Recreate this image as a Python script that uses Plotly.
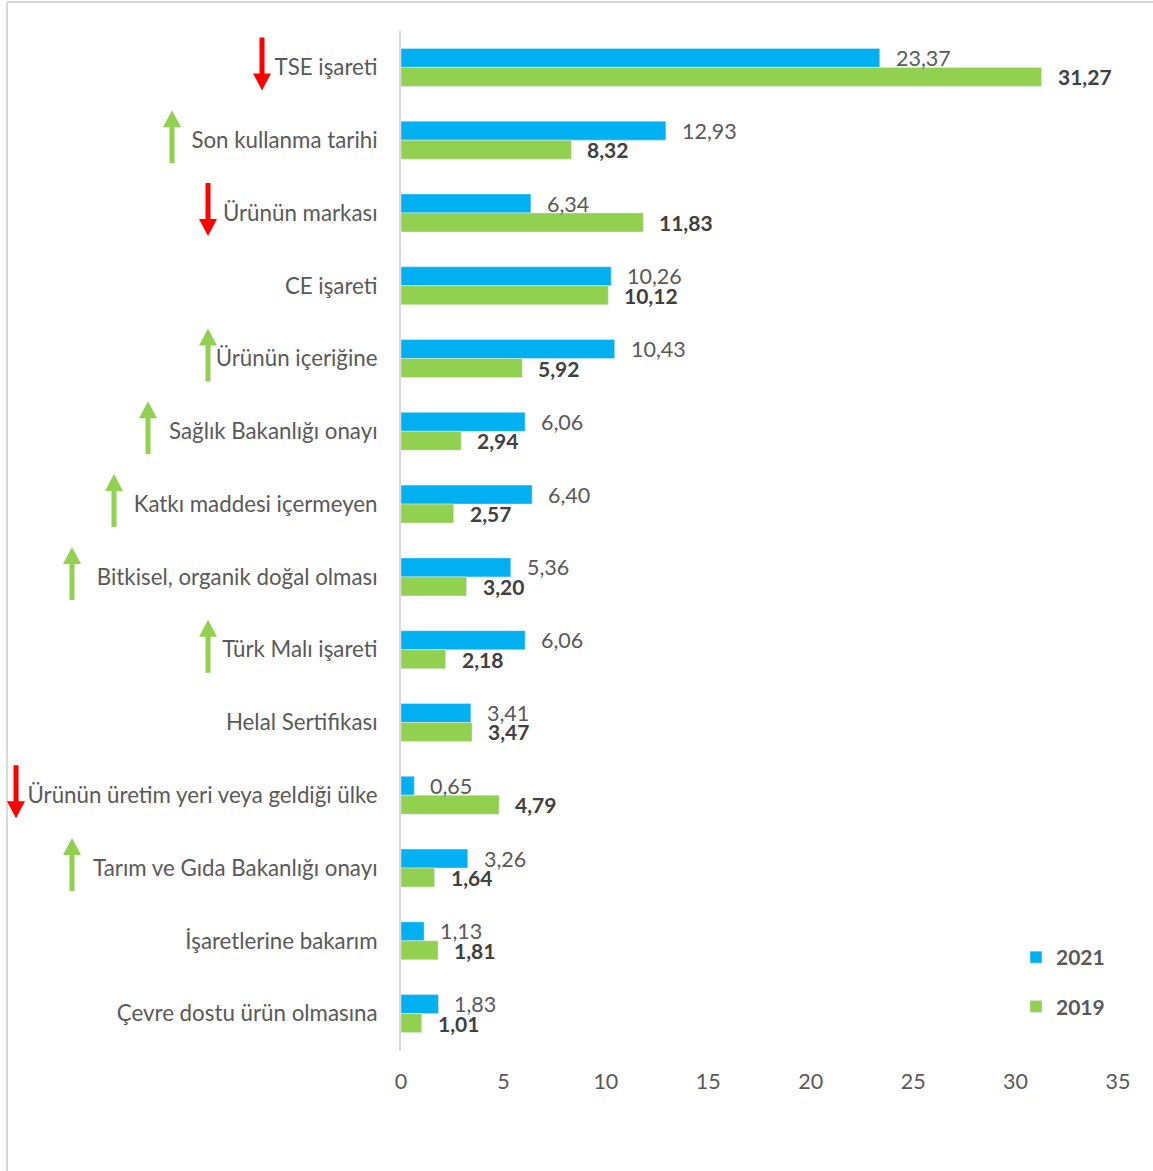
import plotly.graph_objects as go

# Data
categories = [
    "TSE işareti",
    "Son kullanma tarihi",
    "Ürünün markası",
    "CE işareti",
    "Ürünün içeriğine",
    "Sağlık Bakanlığı onayı",
    "Katkı maddesi içermeyen",
    "Bitkisel, organik doğal olması",
    "Türk Malı işareti",
    "Helal Sertifikası",
    "Ürünün üretim yeri veya geldiği ülke",
    "Tarım ve Gıda Bakanlığı onayı",
    "İşaretlerine bakarım",
    "Çevre dostu ürün olmasına",
]
values_2021 = [23.37, 12.93, 6.34, 10.26, 10.43, 6.06, 6.40, 5.36, 6.06, 3.41, 0.65, 3.26, 1.13, 1.83]
values_2019 = [31.27, 8.32, 11.83, 10.12, 5.92, 2.94, 2.57, 3.20, 2.18, 3.47, 4.79, 1.64, 1.81, 1.01]
trend = ["down", "up", "down", None, "up", "up", "up", "up", "up", None, "down", "up", None, None]
x_ticks = [0, 5, 10, 15, 20, 25, 30, 35]

# Layout / style
W, H = 1153, 1171
L, R, T, B = 401, 35, 31, 121
FONT = "Lato"
BLUE = "#00B0F0"
GREEN = "#92D050"
RED = "#FF0000"
GRAY = "#595959"
DARK = "#404040"
# horizontal pixel position of each arrow's centre line
arrow_px = [262, 172, 208, None, 208, 148, 114, 72, 208, None, 16, 72, None, None]

def fmt(v):
    return f"{v:.2f}".replace(".", ",")

ypos = list(range(len(categories)))

fig = go.Figure()
fig.add_trace(go.Bar(
    y=ypos, x=values_2021, orientation="h", name="<b>2021</b>",
    marker=dict(color=BLUE), legendgroup="a",
))
fig.add_trace(go.Bar(
    y=ypos, x=values_2019, orientation="h", name="<b>2019</b>",
    marker=dict(color=GREEN), legendgroup="b",
))

annotations = []
off = 0.13
for i, (a, b) in enumerate(zip(values_2021, values_2019)):
    annotations.append(dict(x=a, y=i - off, xref="x", yref="y", text=fmt(a),
                            showarrow=False, xanchor="left", xshift=14,
                            font=dict(family=FONT, size=21.5, color=GRAY)))
    annotations.append(dict(x=b, y=i + off, xref="x", yref="y", text=f"<b>{fmt(b)}</b>",
                            showarrow=False, xanchor="left", xshift=14,
                            font=dict(family=FONT, size=21, color=DARK)))

plot_w = W - L - R
plot_h = H - T - B

def px_to_paper_x(px):
    return (px - L) / plot_w

def px_to_paper_y(py):
    return 1 - (py - T) / plot_h

shapes = []
# outer frame (left and top edges)
shapes.append(dict(type="line", xref="paper", yref="paper",
                   x0=px_to_paper_x(7), x1=px_to_paper_x(7),
                   y0=px_to_paper_y(2), y1=px_to_paper_y(H + 5),
                   line=dict(color="#D9D9D9", width=2)))
shapes.append(dict(type="line", xref="paper", yref="paper",
                   x0=px_to_paper_x(7), x1=px_to_paper_x(W + 5),
                   y0=px_to_paper_y(2), y1=px_to_paper_y(2),
                   line=dict(color="#D9D9D9", width=2)))

# trend arrows, drawn in pixel units around each category row
for i, (t, ax) in enumerate(zip(trend, arrow_px)):
    if t is None:
        continue
    sw, hw, hl = 2.5, 9, 17
    top, bot = 30, -23  # pixel offsets (up positive) from row centre
    if t == "down":
        path = (f"M{-sw},{top} L{sw},{top} L{sw},{bot + hl} L{hw},{bot + hl} "
                f"L0,{bot} L{-hw},{bot + hl} L{-sw},{bot + hl} Z")
        col = RED
    else:
        path = (f"M{-sw},{bot} L{sw},{bot} L{sw},{top - hl} L{hw},{top - hl} "
                f"L0,{top} L{-hw},{top - hl} L{-sw},{top - hl} Z")
        col = GREEN
    shapes.append(dict(type="path", xref="paper", yref="y",
                       xsizemode="pixel", ysizemode="pixel",
                       xanchor=px_to_paper_x(ax), yanchor=i,
                       path=path, fillcolor=col, line=dict(width=0),
                       layer="above"))

fig.update_layout(
    width=W, height=H,
    margin=dict(l=L, r=R, t=T, b=B, pad=0),
    paper_bgcolor="white", plot_bgcolor="white",
    barmode="group", bargap=0.478, bargroupgap=0,
    font=dict(family=FONT, size=22, color=GRAY),
    xaxis=dict(range=[0, 35], tickvals=x_ticks, ticktext=[str(v) for v in x_ticks],
               showgrid=False, zeroline=False, showline=False,
               ticks="", ticklabelstandoff=16,
               tickfont=dict(family=FONT, size=21.5, color=GRAY)),
    yaxis=dict(range=[len(categories) - 0.5, -0.5], tickvals=ypos, ticktext=categories,
               showgrid=False, zeroline=False, showline=True,
               linecolor="#D9D9D9", linewidth=2, ticks="", ticklabelstandoff=17,
               tickfont=dict(family=FONT, size=22.3, color=GRAY)),
    legend=dict(x=px_to_paper_x(1016), y=px_to_paper_y(937), xanchor="left", yanchor="top",
                traceorder="grouped", tracegroupgap=19,
                font=dict(family=FONT, size=21, color=GRAY),
                bgcolor="rgba(0,0,0,0)"),
    annotations=annotations,
    shapes=shapes,
)

fig.write_html("out.html")
